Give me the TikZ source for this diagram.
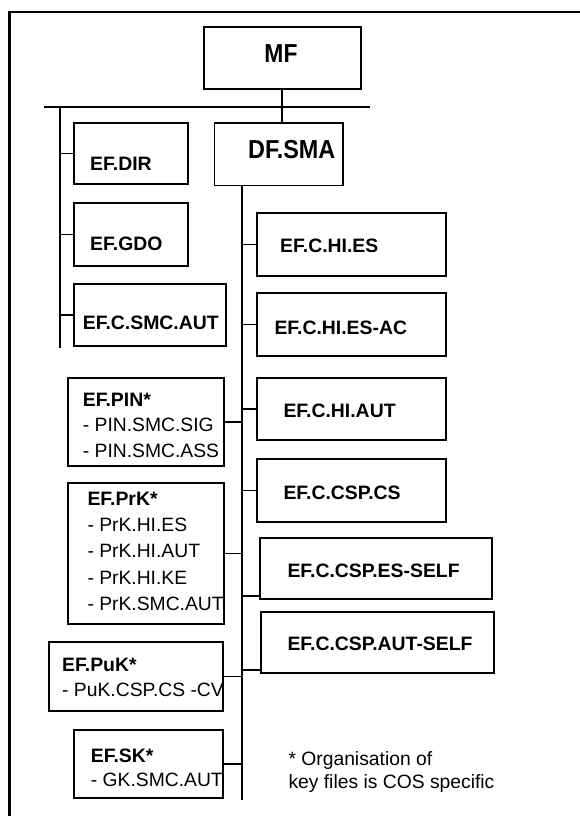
\documentclass[tikz,border=0pt]{standalone}
\usepackage{fontspec}
\setmainfont{Liberation Sans}
\begin{document}
\begin{tikzpicture}[x=1pt,y=-1pt,
  box/.style={draw, line width=1.7pt, rectangle, inner sep=0pt, outer sep=0pt},
  lbl/.style={anchor=base west, inner sep=0pt, font=\fontsize{19.4}{22}\selectfont\bfseries},
  txt/.style={anchor=base west, inner sep=0pt, font=\fontsize{19.3}{22}\selectfont},
  big/.style={anchor=base, inner sep=0pt, font=\fontsize{26}{28}\selectfont\bfseries},
  conn/.style={line width=1.7pt},
  framel/.style={line width=2.2pt}]
\useasboundingbox (0,0) rectangle (580,816);
% outer frame
\draw[framel] (9.5,816) -- (9.5,11.7) -- (580,11.7);
% boxes
\node[box, minimum width=157.3pt, minimum height=62pt] (mf) at (282.3,58.3) {};
\node[box, minimum width=128.7pt, minimum height=62.3pt] (dfsma) at (278.7,154.2) {};
\node[box, minimum width=114pt, minimum height=61pt] (dir) at (130.7,153.5) {};
\node[box, minimum width=114pt, minimum height=62.4pt] (gdo) at (130.7,234.5) {};
\node[box, minimum width=152pt, minimum height=62pt] (smcaut) at (149.7,314.7) {};
\node[box, minimum width=188.4pt, minimum height=62.4pt] (hies) at (351.5,244.5) {};
\node[box, minimum width=188.4pt, minimum height=62.4pt] (hiesac) at (351.5,324.5) {};
\node[box, minimum width=188.4pt, minimum height=62.3pt] (hiaut) at (351.5,408.85) {};
\node[box, minimum width=188.4pt, minimum height=62.4pt] (cspcs) at (351.5,490.5) {};
\node[box, minimum width=232.6pt, minimum height=61.6pt] (esself) at (376,568.5) {};
\node[box, minimum width=233.3pt, minimum height=61.3pt] (autself) at (377.65,642.65) {};
\node[box, minimum width=155.4pt, minimum height=88.3pt] (pin) at (146,421.85) {};
\node[box, minimum width=155.4pt, minimum height=140.4pt] (prk) at (146,553.5) {};
\node[box, minimum width=174pt, minimum height=69.3pt] (puk) at (136,676.35) {};
\node[box, minimum width=149.3pt, minimum height=67.7pt] (sk) at (148.35,763.85) {};
% texts
\node[big] (tmf) at (281,62.7) {\scalebox{0.88}[1]{MF}};
\node[big] (tdf) at (291.7,158.3) {\scalebox{0.9}[1]{DF.SMA}};
\node[lbl] (tdir) at (90,170.7) {EF.DIR};
\node[lbl] (tgdo) at (90,250) {EF.GDO};
\node[lbl] (tsmc) at (82.7,329.3) {EF.C.SMC.AUT};
\node[lbl] (thies) at (280,252.3) {EF.C.HI.ES};
\node[lbl] (thiesac) at (274.3,334) {EF.C.HI.ES-AC};
\node[lbl] (thiaut) at (283.3,417.7) {EF.C.HI.AUT};
\node[lbl] (tcspcs) at (283.3,499.3) {EF.C.CSP.CS};
\node[lbl] (tesself) at (287.3,577.3) {EF.C.CSP.ES-SELF};
\node[lbl] (tautself) at (287.3,650) {EF.C.CSP.AUT-SELF};
\node[lbl] (tpin) at (82.7,406) {EF.PIN*};
\node[txt] (tpin1) at (82.7,431.7) {- PIN.SMC.SIG};
\node[txt] (tpin2) at (82.7,457.3) {- PIN.SMC.ASS};
\node[lbl] (tprk) at (87.3,505.7) {EF.PrK*};
\node[txt] (tprk1) at (87.3,531.7) {- PrK.HI.ES};
\node[txt] (tprk2) at (87.3,557.3) {- PrK.HI.AUT};
\node[txt] (tprk3) at (87.3,584) {- PrK.HI.KE};
\node[txt] (tprk4) at (87.3,610) {- PrK.SMC.AUT};
\node[lbl] (tpuk) at (62,671) {EF.PuK*};
\node[txt] (tpuk1) at (62,696) {- PuK.CSP.CS -CV};
\node[lbl] (tsk) at (90.7,762.3) {EF.SK*};
\node[txt] (tsk1) at (90.7,786.7) {- GK.SMC.AUT};
\node[txt] (note1) at (288.3,765) {* Organisation of};
\node[txt] (note2) at (288.3,788.3) {key files is COS specific};
% bus coordinates
\coordinate (busW) at (44.3,107.3);
\coordinate (busE) at (370,107.3);
\coordinate (ltop) at (59.7,107.3);
\coordinate (lbot) at (59.7,348.3);
\coordinate (rtop) at (241.7,185.3);
\coordinate (rbot) at (241.7,800);
\coordinate (esc) at ([yshift=3.3pt]esself.south west);
\coordinate (autc) at ([yshift=3.3pt]autself.south west);
% connectors
\draw[conn] (mf.south) -- (mf.south |- dfsma.north);
\draw[conn] (busW) -- (busE);
\draw[conn] (ltop) -- (lbot);
\draw[conn] (rtop) -- (rbot);
\draw[conn] (ltop |- dir.west) -- (dir.west);
\draw[conn] (ltop |- gdo.west) -- (gdo.west);
\draw[conn] (ltop |- smcaut.west) -- (smcaut.west);
\draw[conn] (rtop |- hies.west) -- (hies.west);
\draw[conn] (rtop |- hiesac.west) -- (hiesac.west);
\draw[conn] (rtop |- hiaut.west) -- (hiaut.west);
\draw[conn] (rtop |- cspcs.west) -- (cspcs.west);
\draw[conn] (rtop |- esc) -- (esc);
\draw[conn] (rtop |- autc) -- (autc);
\draw[conn] (pin.east) -- (rtop |- pin.east);
\draw[conn] (prk.east) -- (rtop |- prk.east);
\draw[conn] (puk.east) -- (rtop |- puk.east);
\draw[conn] (sk.east) -- (rtop |- sk.east);
\end{tikzpicture}
\end{document}
